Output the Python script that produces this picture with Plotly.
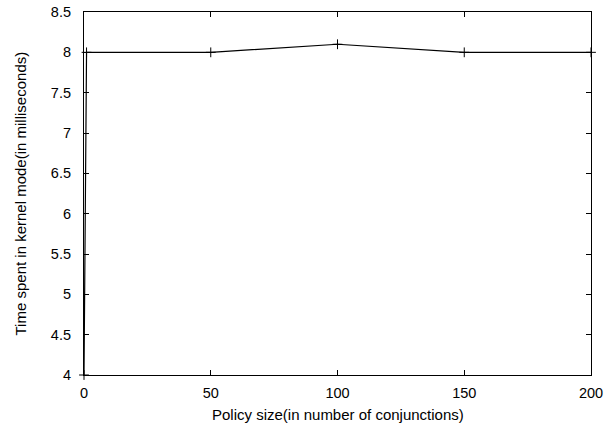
import plotly.graph_objects as go

policy_size = [0, 1, 50, 100, 150, 200]
kernel_time_ms = [4.0, 8.0, 8.0, 8.1, 8.0, 8.0]
x_ticks = [0, 50, 100, 150, 200]
y_ticks = [4, 4.5, 5, 5.5, 6, 6.5, 7, 7.5, 8, 8.5]
x_title = "Policy size(in number of conjunctions)"
y_title = "Time spent in kernel mode(in milliseconds)"

fig = go.Figure()
fig.add_trace(go.Scatter(
    x=policy_size, y=kernel_time_ms, mode="lines+markers",
    line=dict(color="black", width=1.2),
    marker=dict(symbol="cross-thin", size=7, line=dict(color="black", width=1)),
    cliponaxis=False,
))

font = dict(family="Liberation Sans, Arial, sans-serif", size=14.5, color="black")
title_font = dict(family="Liberation Sans, Arial, sans-serif", size=15, color="black")
axis_common = dict(
    showline=True, linecolor="black", linewidth=1.2, mirror="allticks",
    ticks="inside", ticklen=5, tickcolor="black", tickwidth=1,
    showgrid=False, zeroline=False, tickfont=font, automargin=False,
)
fig.update_xaxes(range=[0, 200], tickvals=x_ticks, ticktext=[str(v) for v in x_ticks],
                 ticklabelstandoff=4, **axis_common)
fig.update_yaxes(range=[4, 8.5], tickvals=y_ticks, ticktext=[f"{v:g}" for v in y_ticks],
                 ticklabelstandoff=9, **axis_common)
fig.add_annotation(text=x_title, xref="paper", yref="paper", x=0.5, y=0,
                   xanchor="center", yanchor="middle", yshift=-39,
                   showarrow=False, font=title_font)
fig.add_annotation(text=y_title, xref="paper", yref="paper", x=0, y=0.5,
                   xanchor="center", yanchor="middle", xshift=-64, textangle=-90,
                   showarrow=False, font=title_font)
fig.update_layout(
    width=615, height=425, showlegend=False,
    margin=dict(l=84, r=24, t=12, b=50),
    plot_bgcolor="white", paper_bgcolor="white", font=font,
)
fig.write_html("out.html")
